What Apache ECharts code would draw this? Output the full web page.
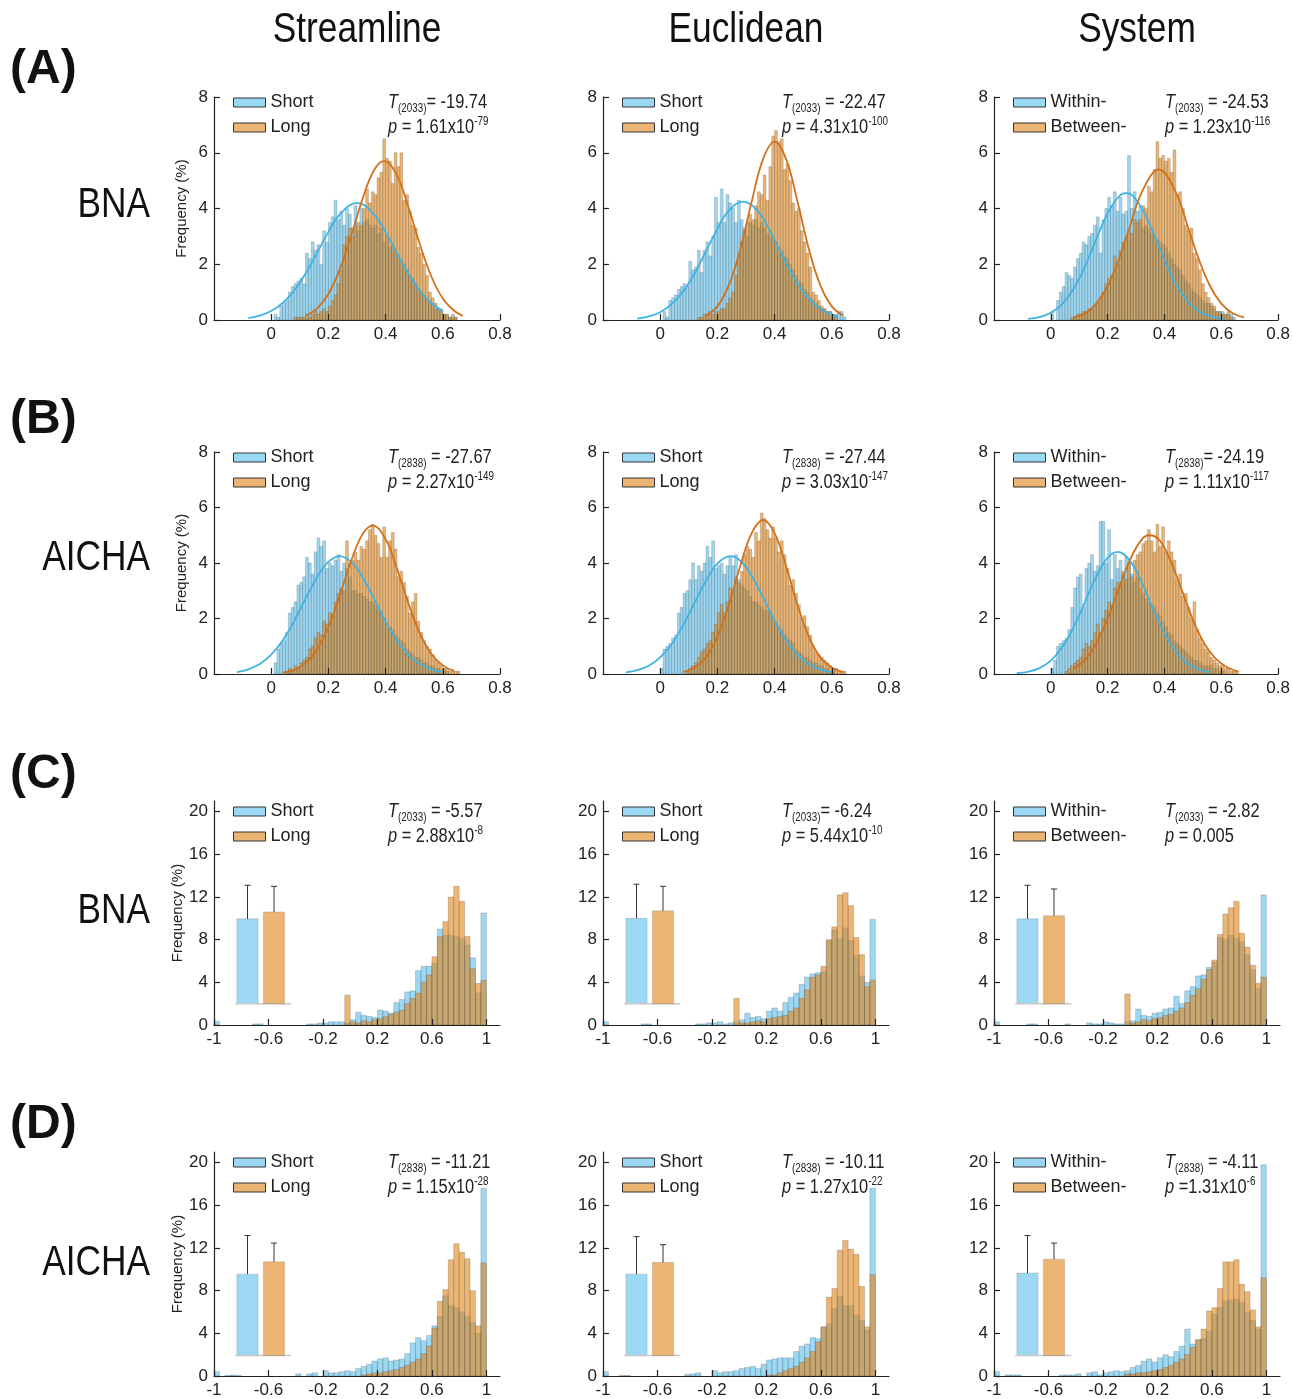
<!DOCTYPE html>
<html>
<head>
<meta charset="utf-8">
<script src="https://cdn.jsdelivr.net/npm/echarts@6/dist/echarts.min.js"></script>
<style>
html,body{margin:0;padding:0;background:#fff;}
#chart{width:1293px;height:1399px;}
</style>
</head>
<body>
<div id="chart"></div>
<script>
var FONT = '"Liberation Sans",Arial,sans-serif';
var NARROW = 0.82; // horizontal squeeze for free text, the figure uses a narrow face

// ---- labels ----
var colTitles = ['Streamline', 'Euclidean', 'System'];
var rowTags = ['(A)', '(B)', '(C)', '(D)'];
var rowAtlas = ['BNA', 'AICHA', 'BNA', 'AICHA'];
var groupNames = [['Short', 'Long'], ['Short', 'Long'], ['Within-', 'Between-']];

// T / p statistics, panel order A1 A2 A3 B1 ... D3
var tDf   = ['2033', '2033', '2033', '2838', '2838', '2838', '2033', '2033', '2033', '2838', '2838', '2838'];
var tRest = ['= -19.74', ' = -22.47', ' = -24.53', ' = -27.67', ' = -27.44', '= -24.19',
             ' = -5.57', '= -6.24', ' = -2.82', ' = -11.21', ' = -10.11', ' = -4.11'];
var pBase = [' = 1.61x10', ' = 4.31x10', ' = 1.23x10', ' = 2.27x10', ' = 3.03x10', ' = 1.11x10',
             ' = 2.88x10', ' = 5.44x10', ' = 0.005', ' = 1.15x10', ' = 1.27x10', ' =1.31x10'];
var pExp  = ['-79', '-100', '-116', '-149', '-147', '-117', '-8', '-10', '', '-28', '-22', '-6'];

// ---- axis ticks ----
var fineXTicks = [0, 0.2, 0.4, 0.6, 0.8];
var fineYTicks = [0, 2, 4, 6, 8];
var coarseXTicks = [-1, -0.6, -0.2, 0.2, 0.6, 1];
var coarseYTicks = [0, 4, 8, 12, 16, 20];

// ---- histogram bins ----
var fineBinStart = 0, fineBinWidth = 0.01;     // rows A, B
var coarseBinStart = -1, coarseBinWidth = 0.04; // rows C, D

// rows A/B: frequency (%) per 0.01 bin from 0.00 to 0.66
var histA1Short = [0,0.2,0.1,0.5,0.6,0.7,1.0,1.2,1.3,1.4, 1.5,1.3,2.4,2.2,2.8,2.5,2.7,2.0,3.2,2.8, 3.5,3.7,4.3,3.6,3.9,3.4,4.0,3.8,3.3,4.1, 3.2,4.0,3.5,3.6,3.4,3.3,3.4,3.1,3.3,2.8, 3.0,2.6,2.7,2.4,2.3,2.1,2.0,1.8,1.6,1.5, 1.3,1.1,1.0,0.8,0.7,0.6,0.5,0.4,0.4,0.4, 0.2,0.2,0.1,0.1,0.1,0,0];
var histA1Long  = [0,0,0,0,0,0,0,0,0.1,0.1, 0.1,0.1,0.2,0.1,0.2,0.3,0.2,0.3,0.4,0.3, 0.5,0.7,0.9,1.3,1.8,2.7,3.0,3.3,3.0,3.4, 3.5,3.4,4.0,4.7,4.2,4.6,4.5,5.1,5.3,6.5, 5.8,5.7,4.9,6.0,5.5,6.0,4.3,4.5,3.9,3.4, 3.3,2.6,2.4,2.0,1.6,1.0,0.8,0.6,0.4,0.3, 0.2,0.2,0.1,0.2,0.1,0,0];
var histA2Short = [0,0.3,0.1,0.7,0.8,0.9,1.1,1.2,1.3,1.2, 2.1,1.8,1.9,2.5,1.7,2.5,2.8,2.3,3.0,4.4, 3.5,4.7,3.5,4.5,4.2,4.0,3.5,4.3,3.6,3.3, 3.0,3.5,3.4,3.6,3.3,3.5,3.3,3.1,3.0,2.9, 2.8,2.6,2.5,2.3,2.2,2.0,1.8,1.6,1.4,1.3, 1.1,1.0,0.8,0.7,0.6,0.5,0.4,0.4,0.3,0.3, 0.2,0.2,0.3,0.3,0.1,0,0];
var histA2Long  = [0,0,0,0,0,0,0,0,0,0, 0,0,0,0.1,0.1,0.2,0.2,0.3,0.2,0.3, 0.3,0.4,0.4,0.6,0.8,1.0,1.6,2.3,2.8,3.2, 3.5,3.8,3.6,4.1,4.6,4.5,5.2,4.3,5.5,6.6, 6.8,6.4,6.5,5.4,5.6,5.0,4.2,3.9,4.0,3.2, 2.8,2.4,1.9,1.0,0.9,0.7,0.5,0.4,0.3,0.3, 0.1,0.1,0,0,0,0,0];
var histA3Short = [0.3,0,0.7,1.0,1.2,1.7,1.6,1.5,1.9,2.2, 2.4,2.8,2.7,3.0,3.1,3.4,3.7,2.4,3.6,4.0, 4.4,4.1,4.6,3.9,4.4,3.8,3.9,5.9,4.0,4.6, 3.9,4.1,3.3,3.4,3.3,3.1,3.0,2.9,2.8,2.7, 2.6,2.4,2.2,2.0,1.9,1.8,1.6,1.4,1.3,1.1, 1.0,0.9,0.8,0.7,0.6,0.6,0.5,0.4,0.3,0.3, 0.3,0.2,0.2,0.2,0.1,0,0];
var histA3Long  = [0,0,0,0,0,0,0,0.1,0.1,0.2, 0.2,0.3,0.3,0.4,0.4,0.5,0.6,0.8,1.0,1.3, 1.5,1.6,2.3,2.0,2.5,2.8,2.9,3.2,3.1,3.6, 3.5,3.6,4.1,4.0,4.8,4.6,5.4,6.4,5.8,5.9, 5.7,5.8,5.3,6.1,4.5,4.6,4.0,3.4,3.2,3.3, 2.4,2.2,1.8,1.3,1.0,0.8,0.6,0.5,0.3,0.3, 0.2,0.2,0.3,0.1,0,0,0];
var histB1Short = [0,0.4,0.9,1.1,1.2,1.5,2.2,2.4,2.6,3.2, 3.3,3.5,4.2,4.0,3.6,4.4,4.9,4.6,4.8,3.8, 4.0,3.9,4.1,4.3,3.7,4.0,3.8,3.5,3.0,3.0, 2.9,2.9,2.8,2.7,2.6,2.6,2.5,2.3,2.2,2.0, 1.8,1.7,1.6,1.4,1.3,1.2,1.1,0.9,0.8,0.7, 0.6,0.6,0.5,0.4,0.4,0.3,0.3,0.2,0.2,0.1, 0.1,0.1,0,0,0,0,0];
var histB1Long  = [0,0,0,0,0,0.1,0.2,0.1,0.3,0.2, 0.4,0.5,0.6,0.9,1.0,1.3,1.5,1.4,1.9,1.8, 2.2,2.1,2.6,2.9,3.1,3.0,4.8,4.0,4.1,4.4, 4.1,4.6,4.5,4.8,5.2,5.4,5.0,4.7,4.2,5.3, 4.2,4.8,5.1,4.5,3.5,3.7,3.3,2.8,2.2,2.6, 2.9,1.9,1.5,1.2,1.0,0.9,0.7,0.5,0.4,0.3, 0.2,0.2,0.1,0.1,0.1,0.1,0];
var histB2Short = [0.2,0.9,1.0,1.1,1.3,1.4,2.2,2.4,2.9,3.0, 3.4,4.0,3.4,3.9,3.7,4.0,4.6,4.2,4.8,3.8, 3.9,4.0,3.6,3.9,4.2,3.9,4.3,3.4,3.2,3.1, 3.0,2.8,2.6,2.6,2.5,2.4,2.3,2.3,2.2,2.0, 1.8,1.7,1.6,1.4,1.3,1.2,1.1,0.9,0.8,0.7, 0.6,0.6,0.5,0.4,0.4,0.3,0.3,0.2,0.2,0.1, 0.1,0,0,0,0,0,0];
var histB2Long  = [0,0,0,0,0,0,0,0,0,0.1, 0.2,0.3,0.4,0.6,0.8,0.9,1.1,1.2,1.5,1.8, 2.2,2.5,2.2,2.6,3.1,2.9,3.5,3.3,3.7,4.3, 4.6,4.5,4.2,5.1,4.8,5.8,5.6,5.2,4.9,5.3, 4.9,4.4,4.8,4.3,3.8,3.2,3.4,2.9,2.5,2.0, 2.1,1.7,1.4,1.0,0.8,0.7,0.6,0.5,0.4,0.3, 0.2,0.2,0.1,0.1,0.1,0,0];
var histB3Short = [0.2,0.5,1.0,1.1,1.2,1.3,1.6,2.4,3.1,3.5, 3.6,2.4,3.8,4.0,4.3,3.7,3.9,5.5,5.5,4.0, 5.2,3.4,4.3,3.8,4.1,3.6,4.2,4.0,3.6,3.3, 3.5,3.1,2.9,2.7,2.6,2.5,2.4,2.2,2.1,1.9, 1.7,1.5,1.4,1.2,1.1,1.0,0.9,0.8,0.7,0.6, 0.5,0.5,0.4,0.3,0.3,0.3,0.3,0.2,0.2,0.1, 0.1,0,0,0,0,0,0];
var histB3Long  = [0,0,0,0,0,0.1,0.2,0.3,0.4,0.5, 0.6,0.9,1.1,1.0,1.2,1.5,1.8,1.5,2.0,2.3, 2.6,2.5,3.1,3.3,3.2,3.7,3.4,4.0,3.5,4.1, 4.3,4.4,4.7,4.8,5.2,4.8,4.4,5.4,4.6,5.3, 4.4,4.8,4.4,4.1,3.4,3.6,2.8,2.9,2.4,2.0, 2.6,1.6,1.3,1.1,0.9,0.8,0.6,0.5,0.4,0.3, 0.3,0.2,0.2,0.1,0.1,0.1,0];

// rows C/D: frequency (%) per 0.04 bin from -1 to 1
var histC1Short = [0.35,0,0,0,0,0,0,0.1,0.1,0, 0,0,0,0,0,0,0,0.1,0.1,0.2, 0.2,0.3,0.3,0.3,0.2,0.5,1.2,0.9,0.8,0.7, 1.4,1.3,1.1,2.1,2.4,3.1,3.2,5.1,5.5,5.5, 5.8,9.0,8.4,8.4,8.3,8.1,7.5,6.3,3.0,10.5];
var histC1Long  = [0,0,0,0,0,0,0,0,0,0, 0,0,0,0,0,0,0,0,0,0, 0,0,0,0,2.8,0.3,0.2,0.4,0.3,0.5, 0.6,0.8,1.0,1.2,1.4,2.0,2.5,3.0,4.0,4.7, 6.4,8.3,9.7,12.0,13.0,11.6,8.3,5.3,3.9,4.2];
var histC2Short = [0.3,0,0,0,0,0,0,0.1,0.1,0, 0,0,0,0,0,0,0,0.1,0.1,0.2, 0.2,0.3,0.1,0.2,0.3,0.5,1.1,0.7,0.8,0.6, 1.3,1.6,1.3,2.1,2.6,3.0,3.8,4.5,4.8,4.9, 5.0,7.9,8.9,8.1,9.1,7.9,6.5,4.6,4.0,9.9];
var histC2Long  = [0,0,0,0,0,0,0,0,0,0, 0,0,0,0,0,0,0,0,0,0, 0,0,0,0,2.5,0.2,0.2,0.3,0.4,0.3, 0.6,0.7,0.8,0.9,1.3,1.6,2.5,3.3,4.5,4.7, 5.5,8.0,9.2,12.2,12.4,11.2,8.2,6.6,3.6,4.2];
var histC3Short = [0.3,0,0,0,0,0,0.1,0.1,0,0, 0,0,0,0.1,0,0,0,0.2,0.1,0.1, 0.3,0.2,0.1,0.1,0.3,0.4,1.5,0.9,0.8,1.1, 1.2,1.5,1.6,2.7,2.0,3.2,3.6,4.6,4.7,5.4, 5.9,8.2,8.0,8.4,8.1,7.8,6.6,5.2,3.4,12.2];
var histC3Long  = [0,0,0,0,0,0,0,0,0,0, 0,0,0,0,0,0,0,0,0,0, 0,0,0,0,2.9,0.2,0.3,0.5,0.4,0.6, 0.7,0.9,1.0,1.3,1.6,2.1,2.8,3.4,4.3,5.2, 6.1,8.5,10.4,11.0,11.6,8.6,7.3,5.6,3.9,4.5];
var histD1Short = [0.4,0,0.05,0.1,0.05,0,0,0,0,0, 0,0,0,0,0,0.2,0,0.2,0.3,0, 0.5,0.3,0.3,0.4,0.5,0.4,0.7,0.9,1.1,1.4, 1.6,1.7,1.4,1.5,1.6,2.1,3.1,3.6,3.3,3.8, 4.7,5.6,7.5,6.6,6.4,6.0,5.6,5.0,4.0,17.6];
var histD1Long  = [0,0,0,0,0,0,0,0,0,0, 0,0,0,0,0,0,0,0,0,0, 0,0,0,0,0,0,0,0.1,0.2,0.3, 0.3,0.4,0.5,0.6,0.8,1.0,1.3,1.6,2.1,2.8, 4.5,7.0,8.1,10.9,12.4,11.6,11.0,8.0,4.7,10.6];
var histD2Short = [0.4,0,0,0.05,0.05,0,0,0,0,0, 0,0,0,0,0,0.15,0.2,0.3,0,0, 0.5,0.3,0.4,0.4,0.5,0.7,0.8,0.9,0.7,1.1, 1.5,1.6,1.7,1.7,1.7,2.3,2.8,3.0,3.6,3.5, 4.6,4.9,6.3,7.5,6.6,6.6,5.7,5.2,4.3,17.6];
var histD2Long  = [0,0,0,0,0,0,0,0,0,0, 0,0,0,0,0,0,0,0,0,0, 0,0,0,0,0,0,0,0,0,0, 0.1,0.1,0.3,0.5,0.7,0.9,1.3,1.7,2.3,3.2, 4.6,7.4,8.2,11.8,12.7,11.9,11.4,8.4,4.6,9.5];
var histD3Short = [0.4,0,0.1,0.1,0.1,0,0,0,0,0, 0,0,0.1,0.1,0.1,0.2,0,0.3,0.4,0.1, 0.3,0.4,0.5,0.4,0.5,0.8,1.0,1.4,1.6,1.3, 1.7,2.0,1.8,2.3,2.8,4.4,3.0,3.4,3.5,4.2, 5.8,6.4,7.0,7.1,7.2,6.9,6.0,5.2,4.4,19.8];
var histD3Long  = [0,0,0,0,0,0,0,0,0,0, 0,0,0,0,0,0,0,0,0,0, 0,0,0,0,0.2,0.2,0.3,0.3,0.4,0.5, 0.6,0.8,1.0,1.3,1.6,2.0,2.7,3.4,4.4,6.1, 6.4,8.2,10.7,10.7,10.9,8.6,7.9,6.2,4.6,9.2];

// fitted normal curves for rows A/B, [x, frequency %]
var fitA1Short = [[-0.08,0.07],[-0.04,0.16],[0,0.32],[0.04,0.61],[0.08,1.05],[0.12,1.66],[0.16,2.40],[0.20,3.16],[0.24,3.79],[0.30,4.2],[0.36,3.79],[0.40,3.16],[0.44,2.40],[0.48,1.66],[0.52,1.05],[0.56,0.61],[0.60,0.32]];
var fitA1Long  = [[0.12,0.16],[0.16,0.41],[0.20,0.93],[0.24,1.82],[0.28,3.04],[0.32,4.36],[0.36,5.38],[0.395,5.7],[0.44,5.18],[0.48,4.04],[0.52,2.71],[0.56,1.56],[0.60,0.77],[0.64,0.33],[0.67,0.15]];
var fitA2Short = [[-0.08,0.05],[-0.04,0.13],[0,0.28],[0.04,0.57],[0.08,1.02],[0.12,1.67],[0.16,2.46],[0.20,3.27],[0.24,3.92],[0.29,4.25],[0.34,3.92],[0.38,3.27],[0.42,2.46],[0.46,1.67],[0.50,1.02],[0.54,0.57],[0.58,0.28],[0.62,0.13]];
var fitA2Long  = [[0.16,0.16],[0.20,0.49],[0.24,1.24],[0.28,2.54],[0.32,4.25],[0.36,5.78],[0.40,6.4],[0.44,5.78],[0.48,4.25],[0.52,2.54],[0.56,1.24],[0.60,0.49],[0.64,0.16]];
var fitA3Short = [[-0.08,0.04],[-0.04,0.10],[0,0.26],[0.04,0.57],[0.08,1.12],[0.12,1.92],[0.16,2.90],[0.20,3.83],[0.24,4.44],[0.265,4.55],[0.29,4.44],[0.33,3.83],[0.37,2.90],[0.41,1.92],[0.45,1.12],[0.49,0.57],[0.53,0.26],[0.57,0.10],[0.61,0.04]];
var fitA3Long  = [[0.08,0.09],[0.12,0.24],[0.16,0.59],[0.20,1.22],[0.24,2.20],[0.28,3.41],[0.32,4.58],[0.38,5.4],[0.44,4.58],[0.48,3.41],[0.52,2.20],[0.56,1.22],[0.60,0.59],[0.64,0.24],[0.68,0.09]];
var fitB1Short = [[-0.12,0.07],[-0.08,0.17],[-0.04,0.36],[0,0.70],[0.04,1.21],[0.08,1.90],[0.12,2.71],[0.16,3.48],[0.20,4.04],[0.24,4.25],[0.28,4.04],[0.32,3.48],[0.36,2.71],[0.40,1.90],[0.44,1.21],[0.48,0.70],[0.52,0.36],[0.56,0.17],[0.60,0.07]];
var fitB1Long  = [[0.04,0.05],[0.08,0.15],[0.12,0.39],[0.16,0.88],[0.20,1.70],[0.24,2.85],[0.28,4.09],[0.32,5.05],[0.355,5.35],[0.40,4.86],[0.44,3.79],[0.48,2.54],[0.52,1.46],[0.56,0.72],[0.60,0.31],[0.64,0.11]];
var fitB2Short = [[-0.12,0.06],[-0.08,0.14],[-0.04,0.30],[0,0.60],[0.04,1.08],[0.08,1.75],[0.12,2.56],[0.16,3.36],[0.20,3.98],[0.245,4.25],[0.28,4.08],[0.32,3.54],[0.36,2.76],[0.40,1.94],[0.44,1.23],[0.48,0.70],[0.52,0.36],[0.56,0.17],[0.60,0.07]];
var fitB2Long  = [[0.08,0.07],[0.12,0.23],[0.16,0.60],[0.20,1.34],[0.24,2.49],[0.28,3.89],[0.32,5.08],[0.36,5.55],[0.40,5.08],[0.44,3.89],[0.48,2.49],[0.52,1.34],[0.56,0.60],[0.60,0.23],[0.64,0.07]];
var fitB3Short = [[-0.12,0.03],[-0.08,0.08],[-0.04,0.21],[0,0.48],[0.04,0.96],[0.08,1.68],[0.12,2.59],[0.16,3.51],[0.20,4.19],[0.235,4.4],[0.28,4.06],[0.32,3.29],[0.36,2.35],[0.40,1.48],[0.44,0.81],[0.48,0.39],[0.52,0.17],[0.56,0.06]];
var fitB3Long  = [[0.08,0.20],[0.12,0.50],[0.16,1.10],[0.20,2.00],[0.24,3.10],[0.28,4.15],[0.32,4.85],[0.345,5.0],[0.38,4.85],[0.42,4.10],[0.46,3.05],[0.50,1.95],[0.54,1.10],[0.58,0.55],[0.62,0.24],[0.66,0.09]];

// inset bars, rows C/D (mean and sd on the frequency axis, bars rise from insetBase)
var insetBase = 2;
var insetMean = [[9.95, 10.6], [10.0, 10.7], [9.95, 10.25], [9.6, 10.75], [9.6, 10.7], [9.7, 11.0]];
var insetSd   = [[3.15, 2.4], [3.2, 2.3], [3.15, 2.5], [3.6, 1.75], [3.5, 1.65], [3.5, 1.5]];

var histShort = [histA1Short, histA2Short, histA3Short, histB1Short, histB2Short, histB3Short,
                 histC1Short, histC2Short, histC3Short, histD1Short, histD2Short, histD3Short];
var histLong  = [histA1Long, histA2Long, histA3Long, histB1Long, histB2Long, histB3Long,
                 histC1Long, histC2Long, histC3Long, histD1Long, histD2Long, histD3Long];
var fitShort = [fitA1Short, fitA2Short, fitA3Short, fitB1Short, fitB2Short, fitB3Short];
var fitLong  = [fitA1Long, fitA2Long, fitA3Long, fitB1Long, fitB2Long, fitB3Long];

// ---- layout / style ----
var colLefts = [214, 603, 994];
var gridW = 286;
var rowTops = [97, 452, 801, 1152];
var rowBottoms = [320, 674, 1025, 1377];
var statX = [388, 782, 1165];
var axisColor = '#222';
var blueFill = 'rgba(90,190,235,0.6)';
var orangeFill = 'rgba(225,135,30,0.62)';
var blueLine = '#3fb3e3';
var orangeLine = '#d3701a';
var fills = [blueFill, orangeFill];

var chart = echarts.init(document.getElementById('chart'));

var grids = [], xAxes = [], yAxes = [], series = [], legends = [], graphics = [];

function histSeries(name, values, start, width, fill, gi) {
  var data = values.map(function (v, i) { return [start + i * width, start + (i + 1) * width, v]; });
  return {
    type: 'custom', name: name, xAxisIndex: gi, yAxisIndex: gi, silent: true,
    itemStyle: { color: fill },
    encode: { x: [0, 1], y: 2 },
    data: data,
    renderItem: function (params, api) {
      var v = api.value(2);
      if (!v) return null;
      var p0 = api.coord([api.value(0), v]);
      var p1 = api.coord([api.value(1), 0]);
      return {
        type: 'rect',
        shape: { x: p0[0], y: p0[1], width: p1[0] - p0[0], height: p1[1] - p0[1] },
        style: { fill: fill, stroke: 'rgba(60,60,60,0.35)', lineWidth: 0.6 }
      };
    }
  };
}

function axisBase(gi) {
  return {
    gridIndex: gi, type: 'value', z: 5,
    axisLine: { show: true, onZero: false, lineStyle: { color: axisColor, width: 1.2 } },
    splitLine: { show: false }
  };
}

// free text squeezed horizontally around its anchor
function narrowText(x, y, text, style) {
  style.text = text;
  style.x = 0;
  style.y = 0;
  return { type: 'text', silent: true, x: x, y: y, scaleX: NARROW, style: style };
}

for (var r = 0; r < 4; r++) {
  for (var c = 0; c < 3; c++) {
    var p = r * 3 + c;
    var fine = r < 2;
    grids.push({ left: colLefts[c], top: rowTops[r], width: gridW, height: rowBottoms[r] - rowTops[r] });

    var xa = axisBase(p);
    xa.min = fine ? -0.2 : -1;
    xa.max = fine ? 0.8 : 1.1;
    xa.axisTick = { inside: true, length: 6, customValues: fine ? fineXTicks : coarseXTicks, lineStyle: { color: axisColor, width: 1.2 } };
    xa.axisLabel = { customValues: fine ? fineXTicks : coarseXTicks, fontSize: 17, fontFamily: FONT, color: axisColor, margin: 6 };
    xAxes.push(xa);

    var ya = axisBase(p);
    ya.min = 0;
    ya.max = fine ? 8 : 21;
    ya.axisTick = { inside: true, length: 6, customValues: fine ? fineYTicks : coarseYTicks, lineStyle: { color: axisColor, width: 1.2 } };
    ya.axisLabel = { customValues: fine ? fineYTicks : coarseYTicks, fontSize: 17, fontFamily: FONT, color: axisColor, margin: 6 };
    if (c === 0) {
      ya.name = 'Frequency (%)';
      ya.nameLocation = 'middle';
      ya.nameGap = 25;
      ya.nameTextStyle = { fontSize: 15, fontFamily: FONT, color: axisColor };
    }
    yAxes.push(ya);

    var names = groupNames[c];
    var bStart = fine ? fineBinStart : coarseBinStart;
    var bW = fine ? fineBinWidth : coarseBinWidth;
    series.push(histSeries(names[0], histShort[p], bStart, bW, blueFill, p));
    if (fine) {
      series.push({ type: 'line', name: names[0] + ' fit', xAxisIndex: p, yAxisIndex: p, data: fitShort[p],
        smooth: 0.4, showSymbol: false, silent: true, lineStyle: { color: blueLine, width: 1.8 } });
    }
    series.push(histSeries(names[1], histLong[p], bStart, bW, orangeFill, p));
    if (fine) {
      series.push({ type: 'line', name: names[1] + ' fit', xAxisIndex: p, yAxisIndex: p, data: fitLong[p],
        smooth: 0.4, showSymbol: false, silent: true, lineStyle: { color: orangeLine, width: 1.8 } });
    }

    var textY = fine ? rowTops[r] + 5.5 : rowTops[r] + 10.5;
    legends.push({
      orient: 'vertical', left: colLefts[c] + 19, top: textY - 12, padding: 0,
      itemWidth: 32, itemHeight: 9, itemGap: 1, icon: 'rect', itemTextGap: 4,
      textStyle: { fontSize: 18, lineHeight: 24, fontFamily: FONT, color: axisColor },
      itemStyle: { borderColor: '#333', borderWidth: 1 },
      data: [{ name: names[0], itemStyle: { color: blueFill } }, { name: names[1], itemStyle: { color: orangeFill } }],
      selectedMode: false
    });

    var rich = {
      it: { fontStyle: 'italic', fontSize: 20, lineHeight: 24, fontFamily: FONT, fill: axisColor, verticalAlign: 'middle' },
      n: { fontSize: 20, lineHeight: 24, fontFamily: FONT, fill: axisColor, verticalAlign: 'middle' },
      sub: { fontSize: 12, lineHeight: 12, fontFamily: FONT, fill: axisColor, verticalAlign: 'bottom' },
      sup: { fontSize: 12, lineHeight: 12, fontFamily: FONT, fill: axisColor, verticalAlign: 'top' }
    };
    graphics.push(narrowText(statX[c], textY, '{it|T}{sub|(' + tDf[p] + ')}{n|' + tRest[p] + '}',
      { rich: rich, align: 'left', verticalAlign: 'middle' }));
    graphics.push(narrowText(statX[c], textY + 25, '{it|p}{n|' + pBase[p] + '}' + (pExp[p] ? '{sup|' + pExp[p] + '}' : ''),
      { rich: rich, align: 'left', verticalAlign: 'middle' }));
  }
}

// insets for rows C/D
for (var k = 0; k < 6; k++) {
  var rr = 2 + Math.floor(k / 3), cc = k % 3;
  var gi = grids.length;
  grids.push({ left: colLefts[cc] + 20.25, top: rowTops[rr], width: 53, height: rowBottoms[rr] - rowTops[rr] });
  xAxes.push({ gridIndex: gi, type: 'category', data: groupNames[cc], show: false });
  yAxes.push({ gridIndex: gi, type: 'value', min: 0, max: 21, show: false });
  series.push({
    type: 'custom', name: 'inset', xAxisIndex: gi, yAxisIndex: gi, silent: true, z: 6,
    data: [[0, insetMean[k][0], insetSd[k][0]], [1, insetMean[k][1], insetSd[k][1]]],
    renderItem: function (params, api) {
      var i = api.value(0), m = api.value(1), s = api.value(2);
      var top = api.coord([i, m]);
      var base = api.coord([i, insetBase]);
      var err = api.coord([i, m + s]);
      var bw = api.size([1, 0])[0] * 0.8;
      var children = [
        { type: 'rect', shape: { x: top[0] - bw / 2, y: top[1], width: bw, height: base[1] - top[1] },
          style: { fill: fills[i], stroke: 'rgba(120,120,120,0.45)', lineWidth: 0.6 } },
        { type: 'line', shape: { x1: top[0], y1: top[1], x2: err[0], y2: err[1] }, style: { stroke: '#333', lineWidth: 1 } },
        { type: 'line', shape: { x1: err[0] - 3, y1: err[1], x2: err[0] + 3, y2: err[1] }, style: { stroke: '#333', lineWidth: 1 } }
      ];
      if (i === 0) {
        var cs = params.coordSys;
        children.push({ type: 'line', shape: { x1: cs.x + 1, y1: base[1], x2: cs.x + cs.width + 4, y2: base[1] },
          style: { stroke: '#c8c8c8', lineWidth: 1.5 } });
      }
      return { type: 'group', children: children };
    }
  });
}

// titles and row labels
colTitles.forEach(function (t, c) {
  graphics.push(narrowText(colLefts[c] + gridW / 2, 30, t,
    { fontSize: 43, fontFamily: FONT, fill: '#111', align: 'center', verticalAlign: 'middle' }));
});
var tagY = [70, 420, 775, 1125];
var atlasY = [205, 558, 911, 1263];
rowTags.forEach(function (t, r) {
  graphics.push({ type: 'text', silent: true, style: { x: 10, y: tagY[r], text: t,
    fontSize: 48, fontWeight: 'bold', fontFamily: FONT, fill: '#111', align: 'left', verticalAlign: 'middle' } });
  graphics.push(narrowText(150, atlasY[r], rowAtlas[r],
    { fontSize: 43, fontFamily: FONT, fill: '#111', align: 'right', verticalAlign: 'middle' }));
});

chart.setOption({
  animation: false,
  backgroundColor: '#fff',
  grid: grids,
  xAxis: xAxes,
  yAxis: yAxes,
  legend: legends,
  series: series,
  graphic: graphics
});
</script>
</body>
</html>
